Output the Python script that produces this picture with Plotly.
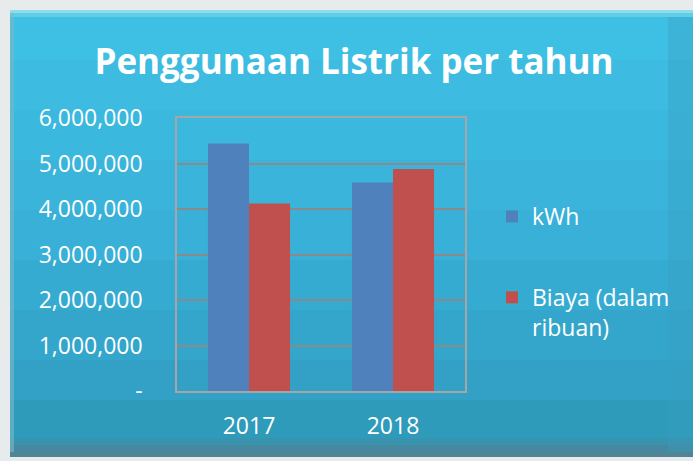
import plotly.graph_objects as go

categories = ["2017", "2018"]
kwh = [5440000, 4580000]
biaya = [4120000, 4880000]
tick_vals = [0, 1000000, 2000000, 3000000, 4000000, 5000000, 6000000]
tick_text = ["-", "1,000,000", "2,000,000", "3,000,000", "4,000,000", "5,000,000", "6,000,000"]

W, H = 693, 461
L, R, T, B = 177, 228, 118, 70
PW, PH = W - L - R, H - T - B

def px(x):
    return (x - L) / PW

def py(y):
    return (H - B - y) / PH

FONT = "Open Sans"

fig = go.Figure()
fig.add_trace(go.Bar(x=categories, y=kwh, name="kWh", marker_color="#4f81bd",
                     marker_line_width=0, legendgroup="a"))
fig.add_trace(go.Bar(x=categories, y=biaya, name="Biaya (dalam<br>ribuan)", marker_color="#c0504d",
                     marker_line_width=0, legendgroup="b"))

# background gradient bands (decorative)
bands = [
    (10, 13, "#8adfea"), (13, 17, "#62cde6"),
    (17, 60, "#3ebfe4"), (60, 110, "#3dbbe1"), (110, 160, "#3bb8de"),
    (160, 210, "#3ab4db"), (210, 260, "#38b0d7"), (260, 310, "#36abd2"),
    (310, 360, "#34a6cc"), (360, 400, "#32a1c5"), (400, 438, "#2f9bbb"),
    (438, 445, "#3893ae"), (445, 452, "#46899f"), (452, 457, "#4f8596"),
]
shapes = []
for y0, y1, c in bands:
    shapes.append(dict(type="rect", xref="paper", yref="paper", layer="below",
                       x0=px(10), x1=px(700), y0=py(y1), y1=py(y0),
                       fillcolor=c, line_width=0))
# left edge shading
shapes.append(dict(type="rect", xref="paper", yref="paper", layer="below",
                   x0=px(10), x1=px(14), y0=py(452), y1=py(13),
                   fillcolor="#7fb8c8", line_width=0, opacity=0.6))
# right edge shading
shapes.append(dict(type="rect", xref="paper", yref="paper", layer="below",
                   x0=px(668), x1=px(700), y0=py(452), y1=py(17),
                   fillcolor="#3a9fc0", line_width=0, opacity=0.35))

fig.update_layout(
    width=W, height=H,
    margin=dict(l=L, r=R, t=T, b=B),
    paper_bgcolor="#e8ebec",
    plot_bgcolor="#ffffff",
    shapes=shapes,
    bargap=0.43, bargroupgap=0,
    barmode="group",
    title=dict(text="<b>Penggunaan Listrik per tahun</b>", x=354 / W, xanchor="center",
               xref="container", y=1 - 62 / H, yanchor="middle", yref="container",
               font=dict(family=FONT, size=35, color="#ffffff")),
    font=dict(family=FONT, color="#ffffff", size=23),
    showlegend=True,
    legend=dict(x=px(492), xanchor="left", y=py(195), yanchor="top",
                font=dict(family=FONT, size=23, color="#ffffff"),
                bgcolor="rgba(0,0,0,0)", tracegroupgap=48, valign="top",
                traceorder="grouped"),
    xaxis=dict(showgrid=False, showline=True, linecolor="#a6a6a6", linewidth=1.5,
               mirror=True, ticks="", tickfont=dict(size=23, color="#ffffff"),
               ticklabelstandoff=14),
    yaxis=dict(range=[0, 6000000], tickvals=tick_vals, ticktext=tick_text,
               showgrid=True, gridcolor="#8a8a8a", gridwidth=2,
               showline=True, linecolor="#a6a6a6", linewidth=1.5, mirror=True,
               ticks="", ticklabelstandoff=28, zeroline=False,
               tickfont=dict(size=23, color="#ffffff")),
)

fig.write_html("out.html", config={"displayModeBar": False},
               post_script="document.body.style.margin='0';")
